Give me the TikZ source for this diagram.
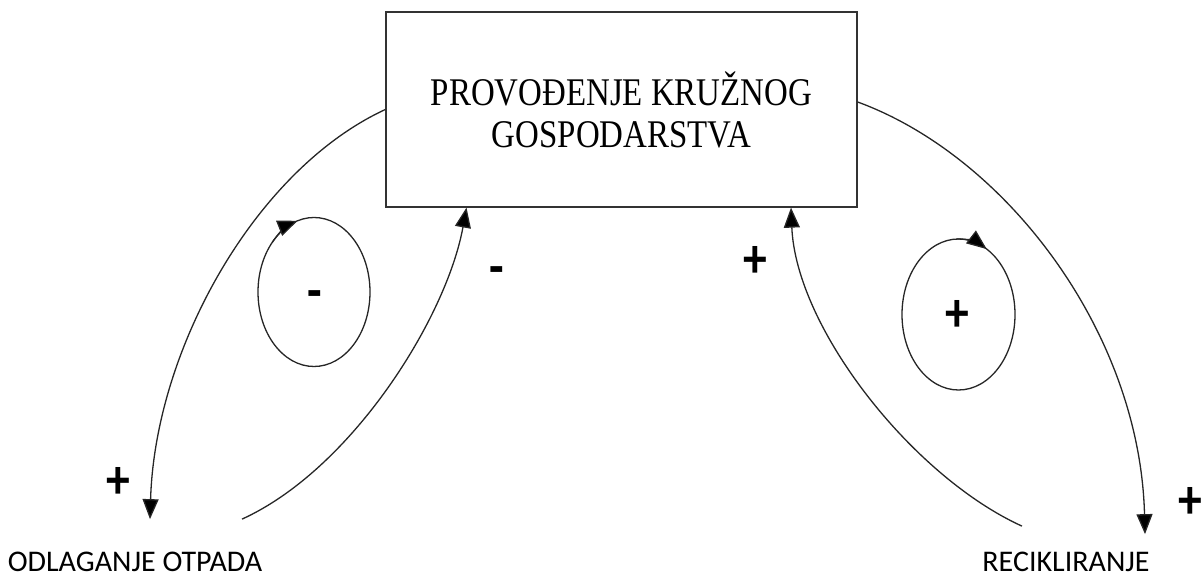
\documentclass[tikz,border=0pt]{standalone}
\usepackage{fontspec}
\setmainfont{Liberation Serif}
\newfontfamily\boxfont{Liberation Serif}[FakeStretch=0.84]
\newfontfamily\lblfont{Carlito}
\newfontfamily\signfont{Carlito}[FakeStretch=0.85]
\usetikzlibrary{positioning,calc,arrows.meta}

\begin{document}
\begin{tikzpicture}
[x=0.5pt,y=-0.5pt,
 link/.style={line width=0.65pt,draw=black!85,-{Triangle[length=10pt,width=8pt,fill=black]}},
 fbloop/.style={line width=0.65pt,draw=black!85},
 sign/.style={font=\signfont\bfseries\fontsize{28}{28}\selectfont,inner sep=0pt},
 lbl/.style={font=\lblfont\fontsize{15}{16}\selectfont,inner sep=0pt,anchor=base}]
\useasboundingbox (0,0) rectangle (1204,576);
\node[draw=black!80,line width=0.65pt,minimum width=235.5pt,minimum height=97.5pt,align=center,
  font=\boxfont\fontsize{19.6}{21}\selectfont](kg) at (621.5,109.5){PROVOĐENJE KRUŽNOG\\GOSPODARSTVA};
\node[lbl](odl) at (135,571){ODLAGANJE OTPADA};
\node[lbl](rec) at (1066,571){RECIKLIRANJE};
\draw[link] (kg.west) .. controls +(-130,60) and +(5,-170) .. ($(odl.north)+(15,-32)$);
\draw[link] ($(odl.north)+(107,-32)$) .. controls +(110,-50) and +(-20,110) .. ($(kg.south)+(-155,0)$);
\draw[link] ($(rec.north)+(-44,-25)$) .. controls +(-110,-50) and +(5,120) .. ($(kg.south)+(169.5,0)$);
\draw[link] ($(kg.east)+(0,-7.5)$) .. controls +(150,55) and +(-5,-200) .. ($(rec.north)+(79,-17)$);
\draw[fbloop] (314,292) ellipse [x radius=56,y radius=74.5];
\draw[link] (314,292) ++(222:56 and 74.5) arc[start angle=222,end angle=253,x radius=56,y radius=74.5];
\draw[fbloop] (958.5,314.5) ellipse [x radius=56.5,y radius=75.5];
\draw[link] (958.5,314.5) ++(268:56.5 and 75.5) arc[start angle=268,end angle=300,x radius=56.5,y radius=75.5];
\node[sign](plodl) at (118,483){+};
\node[sign](mkgl) at (497,276){-};
\node[sign](mloop) at (315,300){-};
\node[sign](pkgr) at (755,262){+};
\node[sign](ploop) at (957,316){+};
\node[sign](prec) at (1190,503){+};
\end{tikzpicture}
\end{document}
